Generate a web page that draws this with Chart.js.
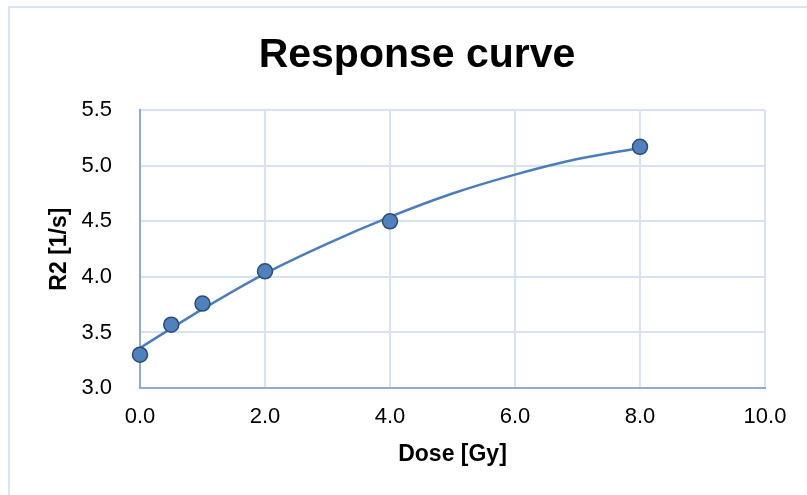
<!DOCTYPE html>
<html>
<head>
<meta charset="utf-8">
<script src="https://cdn.jsdelivr.net/npm/chart.js@4"></script>
<style>
  html, body { margin: 0; padding: 0; background: #fff; overflow: hidden; width: 807px; height: 495px; }
  #frame { position: absolute; left: 8px; top: 6px; width: 900px; height: 600px; border-left: 2px solid #dae3f3; border-top: 2px solid #dae3f3; box-sizing: border-box; }
  #wrap { position: absolute; left: 0; top: 0; width: 834px; height: 495px; }
</style>
</head>
<body>
<div id="frame"></div>
<div id="wrap"><canvas id="c" width="834" height="495"></canvas></div>
<script>
// Measured points
const doseGy = [0, 0.5, 1, 2, 4, 8];
const r2Values = [3.30, 3.57, 3.76, 4.05, 4.50, 5.17];
// Trendline (polynomial)
const trendDose = [0, 1, 2, 3, 4, 5, 6, 7, 8];
const trendR2 = [3.36, 3.71, 4.03, 4.30, 4.54, 4.75, 4.92, 5.06, 5.16];
// Axis ticks
const xTicks = [0, 2, 4, 6, 8, 10];
const yTicks = [3.0, 3.5, 4.0, 4.5, 5.0, 5.5];

const FONT = '"Liberation Sans", Arial, sans-serif';

const pts = doseGy.map((x, i) => ({ x: x, y: r2Values[i] }));
const trend = trendDose.map((x, i) => ({ x: x, y: trendR2[i] }));

// shift the title's box so it centres like the original chart frame
const titleShift = {
  id: 'titleShift',
  afterLayout(chart) {
    if (chart.titleBlock) { chart.titleBlock.left = 69; }
  }
};

new Chart(document.getElementById('c'), {
  type: 'scatter',
  plugins: [titleShift],
  data: {
    datasets: [
      {
        label: 'Trend',
        data: trend,
        showLine: true,
        borderColor: '#4a7ebb',
        borderWidth: 2.5,
        pointRadius: 0,
        cubicInterpolationMode: 'monotone',
        fill: false,
        clip: false,
        order: 2
      },
      {
        label: 'R2',
        data: pts,
        showLine: false,
        pointRadius: 7.5,
        pointBackgroundColor: '#4f81bd',
        pointBorderColor: '#2c4d75',
        pointBorderWidth: 1.5,
        clip: false,
        order: 1
      }
    ]
  },
  options: {
    responsive: false,
    animation: false,
    layout: { padding: { left: 0, right: 69, top: 0, bottom: 0 } },
    plugins: {
      legend: { display: false },
      tooltip: { enabled: false },
      title: {
        display: true,
        text: 'Response curve',
        color: '#000',
        font: { family: FONT, size: 41, weight: 'bold' },
        padding: { top: 31, bottom: 30 }
      }
    },
    scales: {
      x: {
        type: 'linear',
        min: xTicks[0],
        max: xTicks[xTicks.length - 1],
        afterBuildTicks: (s) => { s.ticks = xTicks.map(v => ({ value: v })); },
        afterFit: (s) => { s.height = 107; },
        ticks: {
          color: '#000',
          font: { family: FONT, size: 22 },
          padding: 16,
          callback: (v) => Number(v).toFixed(1)
        },
        grid: { color: '#d9e2f3', lineWidth: 2, drawTicks: false },
        border: { color: '#8eaadb', width: 2 },
        title: {
          display: true,
          text: 'Dose [Gy]',
          color: '#000',
          font: { family: FONT, size: 23, weight: 'bold' },
          padding: 27
        }
      },
      y: {
        type: 'linear',
        min: yTicks[0],
        max: yTicks[yTicks.length - 1],
        afterBuildTicks: (s) => { s.ticks = yTicks.map(v => ({ value: v })); },
        afterFit: (s) => { s.width = 140; },
        ticks: {
          color: '#000',
          font: { family: FONT, size: 22 },
          padding: 28,
          callback: (v) => Number(v).toFixed(1)
        },
        grid: { color: '#d9e2f3', lineWidth: 2, drawTicks: false },
        border: { color: '#8eaadb', width: 2 },
        title: {
          display: true,
          text: 'R2 [1/s]',
          color: '#000',
          font: { family: FONT, size: 23, weight: 'bold' },
          padding: 46
        }
      }
    }
  }
});
</script>
</body>
</html>
